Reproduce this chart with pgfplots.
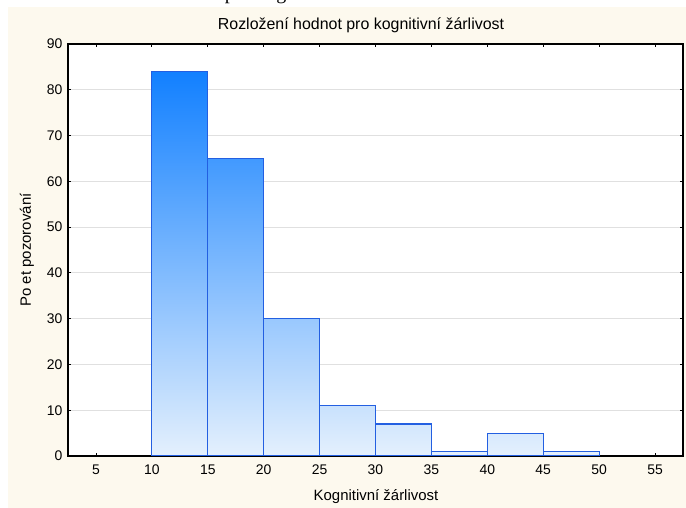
\documentclass[border=0pt]{standalone}
\usepackage{fontspec}
\setmainfont{Liberation Sans}
\setsansfont{Liberation Sans}
\newfontfamily\serifcap{Liberation Serif}
\usepackage{pgfplots}
\pgfplotsset{compat=1.18}
\definecolor{cream}{RGB}{253,249,238}
\definecolor{barline}{RGB}{35,95,225}
\definecolor{bartop}{RGB}{18,128,255}
\definecolor{barbot}{RGB}{228,240,253}
\definecolor{gridc}{RGB}{224,224,224}
\begin{document}
\begin{tikzpicture}
\path[use as bounding box] (0bp,0bp) rectangle (686bp,508bp);
\fill[white] (0bp,0bp) rectangle (686bp,508bp);
\fill[cream] (8bp,0bp) rectangle (686bp,501bp);
\begin{scope}
\clip (0bp,501bp) rectangle (686bp,508bp);
\node[anchor=base west, font=\serifcap\fontsize{20}{24}\selectfont, inner sep=0pt] at (15bp,508.8bp) {Graf 6: Rozložení hodnot pro kognitivní žárlivost};
\end{scope}
\begin{axis}[
  at={(68bp,52bp)}, anchor=south west,
  width=615bp, height=412bp, scale only axis,
  xmin=2.5, xmax=57.5, ymin=0, ymax=90,
  xtick={5,10,...,55}, ytick={0,10,...,90},
  tick align=inside, major tick length=3bp,
  ymajorgrids, grid style={gridc, line width=0.8bp},
  axis line style={black, line width=1.2bp},
  tick style={black, line width=0.8bp},
  ticklabel style={font=\fontsize{14}{16}\selectfont},
  xticklabel style={yshift=-5bp},
  yticklabel style={xshift=-2bp},
  /pgf/number format/assume math mode=true,
  axis background/.style={fill=white},
]
\addplot[const plot, draw=none, top color=bartop, bottom color=barbot, forget plot]
  coordinates {(10,84)(15,65)(20,30)(25,11)(30,7)(35,1)(40,5)(45,1)(50,1)} \closedcycle;
\addplot[ybar, bar width=5, draw=barline, fill=none, line width=1.1bp]
  coordinates {(12.5,84)(17.5,65)(22.5,30)(27.5,11)(32.5,7)(37.5,1)(42.5,5)(47.5,1)};
\end{axis}
\node[font=\fontsize{16}{18}\selectfont] at (361bp,483bp) {Rozložení hodnot pro kognitivní žárlivost};
\node[font=\fontsize{15}{17}\selectfont] at (376bp,11bp) {Kognitivní žárlivost};
\node[font=\fontsize{15}{17}\selectfont, rotate=90] at (27bp,258bp) {Po et pozorování};
\end{tikzpicture}
\end{document}
